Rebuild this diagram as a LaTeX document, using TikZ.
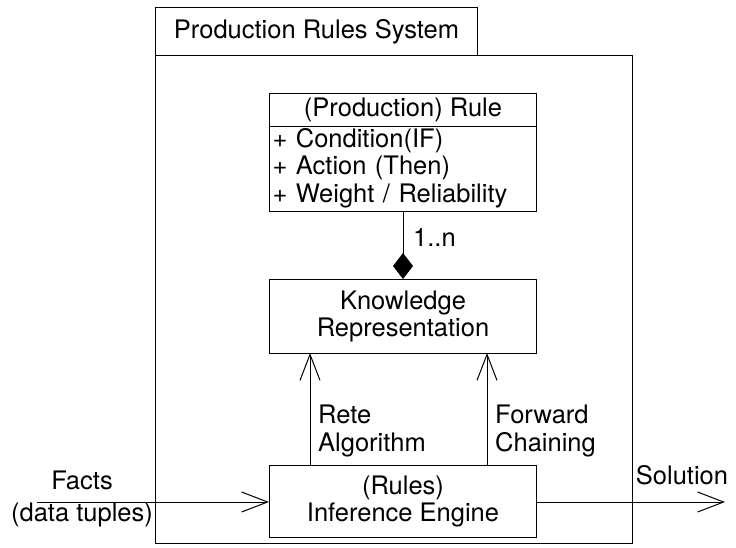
\documentclass[tikz,border=0pt]{standalone}
\usepackage{fontspec}
\setmainfont{TeX Gyre Heros}
\usetikzlibrary{arrows.meta}
\tikzset{
  box/.style={draw, line width=1pt, rectangle, inner sep=0pt, anchor=north west, align=center},
  lbl/.style={inner sep=0pt, align=left},
  conn/.style={line width=1pt, -{Straight Barb[length=26pt,width=20pt,line width=1pt]}},
  comp/.style={line width=1pt, -{Diamond[length=26pt,width=20pt]}}
}
\begin{document}
\begin{tikzpicture}[x=1pt,y=-1pt,font=\fontsize{25.5}{27.5}\selectfont]
\useasboundingbox (0,0) rectangle (736,547);
% package frame
\node[box, minimum width=477pt, minimum height=488pt] (frame) at (155,55) {};
\node[box, minimum width=322pt, minimum height=48pt] (tab) at (155,7) {Production Rules System};
% rule class
\node[box, minimum width=267pt, minimum height=33pt] (ruletitle) at (269,93) {\raisebox{-2pt}{(Production) Rule}};
\node[box, minimum width=267pt, minimum height=85pt, text width=261pt, align=left, inner xsep=3pt] (ruleattr) at (269,126) {\raisebox{-3pt}{\begin{tabular}{@{}l@{}}+ Condition(IF)\\+ Action (Then)\\+ Weight / Reliability\end{tabular}}};
% knowledge
\node[box, minimum width=267pt, minimum height=74pt] (know) at (269,279) {Knowledge\\Representation};
% inference
\node[box, minimum width=267pt, minimum height=72pt] (inf) at (269,465) {(Rules)\\Inference Engine};
% composition
\draw[comp] (ruleattr.south) -- (know.north);
\node[lbl, anchor=west] (mult) at (413,237) {1..n};
% arrows up
\coordinate (infl) at (310,465);
\coordinate (infr) at (487,465);
\coordinate (knl) at (310,353);
\coordinate (knr) at (487,353);
\draw[conn] (infl) -- (knl);
\draw[conn] (infr) -- (knr);
\node[lbl, anchor=west] (rete) at (318,431) {Rete\\Algorithm};
\node[lbl, anchor=west] (fwd) at (495,431) {Forward\\Chaining};
% facts
\coordinate (factsin) at (37,502);
\draw[conn] (factsin) -- (inf.west |- factsin);
\node[lbl] (facts) at (82,480) {Facts};
\node[lbl] (tuples) at (82,515) {(data tuples)};
% solution
\coordinate (solout) at (725,502);
\draw[conn] (inf.east |- solout) -- (solout);
\node[lbl] (sol) at (682,475) {Solution};
\end{tikzpicture}
\end{document}
